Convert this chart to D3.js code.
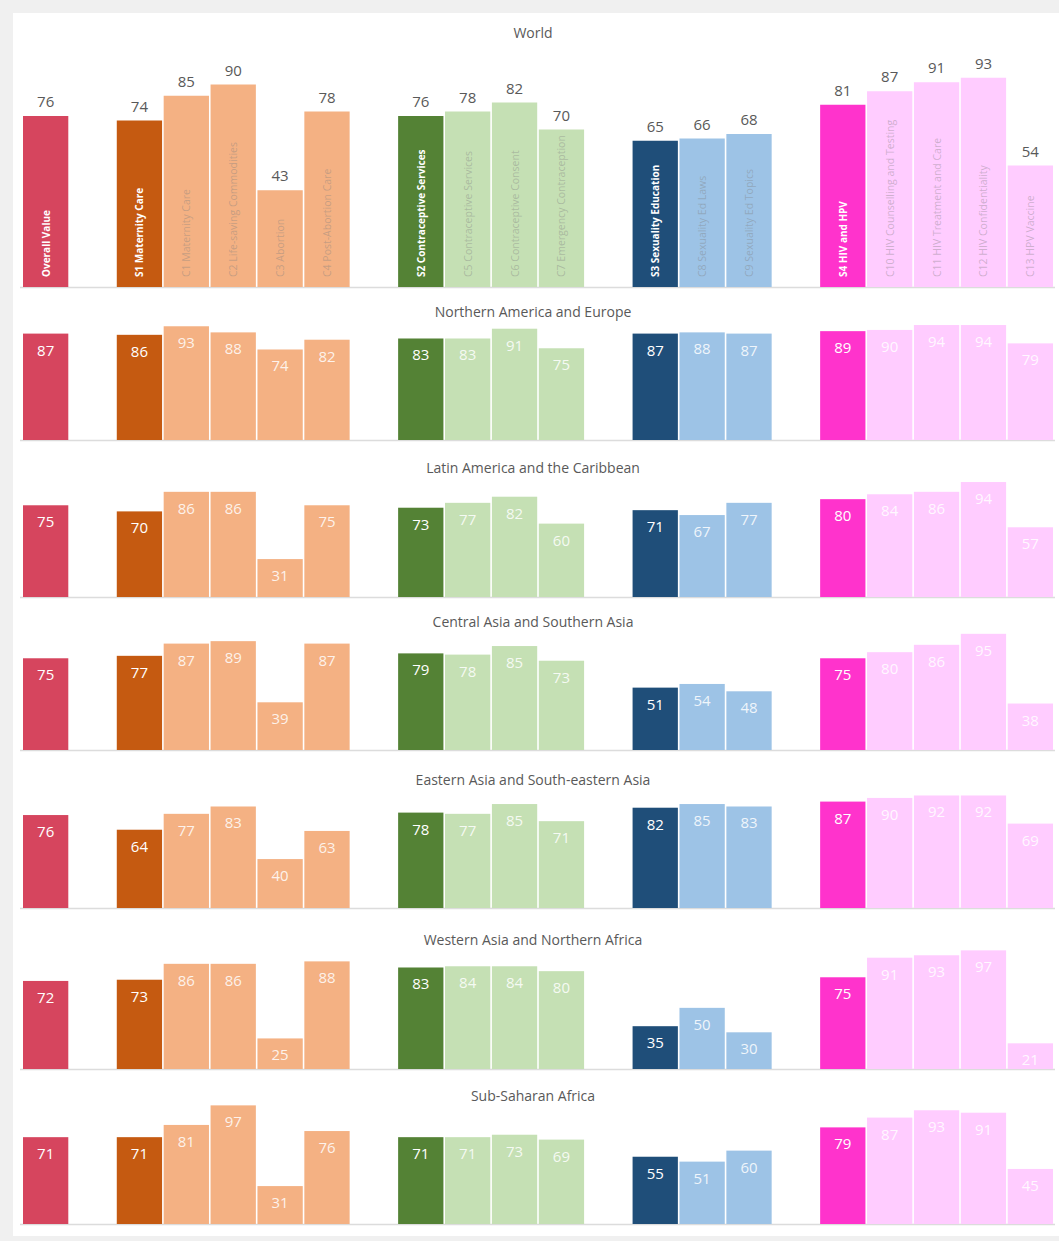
<!DOCTYPE html>
<html>
<head>
<meta charset="utf-8">
<script src="https://cdn.jsdelivr.net/npm/d3@7"></script>
<style>
  html, body { margin: 0; padding: 0; background: #f0f0f0; }
  svg { display: block; }
  text { font-family: "Open Sans", "Noto Sans", sans-serif; }
</style>
</head>
<body>
<svg id="chart" width="1059" height="1241"></svg>
<script>
// Indicator codes in display order; "gap" entries are empty spacer slots.
const slots = ["Overall", "gap1", "S1", "C1", "C2", "C3", "C4", "gap2",
               "S2", "C5", "C6", "C7", "gap3", "S3", "C8", "C9", "gap4",
               "S4", "C10", "C11", "C12", "C13"];

const categories = ["Overall", "S1", "C1", "C2", "C3", "C4", "S2", "C5", "C6", "C7",
                    "S3", "C8", "C9", "S4", "C10", "C11", "C12", "C13"];

const categoryNames = ["Overall Value",
  "S1 Maternity Care", "C1 Maternity Care", "C2 Life-saving Commodities", "C3 Abortion", "C4 Post-Abortion Care",
  "S2 Contraceptive Services", "C5 Contraceptive Services", "C6 Contraceptive Consent", "C7 Emergency Contraception",
  "S3 Sexuality Education", "C8 Sexuality Ed Laws", "C9 Sexuality Ed Topics",
  "S4 HIV and HPV", "C10 HIV Counselling and Testing", "C11 HIV Treatment and Care", "C12 HIV Confidentiality", "C13 HPV Vaccine"];

// Which colour family each indicator belongs to.
const categoryGroups = ["overall", "s1", "c1", "c1", "c1", "c1", "s2", "c2", "c2", "c2",
                        "s3", "c3", "c3", "s4", "c4", "c4", "c4", "c4"];

const regions = ["World", "Northern America and Europe", "Latin America and the Caribbean",
  "Central Asia and Southern Asia", "Eastern Asia and South-eastern Asia",
  "Western Asia and Northern Africa", "Sub-Saharan Africa"];

// Scores (0-100) per region, in the order of `categories`.
const world          = [76, 74, 85, 90, 43, 78, 76, 78, 82, 70, 65, 66, 68, 81, 87, 91, 93, 54];
const northAmEurope  = [87, 86, 93, 88, 74, 82, 83, 83, 91, 75, 87, 88, 87, 89, 90, 94, 94, 79];
const latinAmerica   = [75, 70, 86, 86, 31, 75, 73, 77, 82, 60, 71, 67, 77, 80, 84, 86, 94, 57];
const centralSouthAs = [75, 77, 87, 89, 39, 87, 79, 78, 85, 73, 51, 54, 48, 75, 80, 86, 95, 38];
const eastSEAsia     = [76, 64, 77, 83, 40, 63, 78, 77, 85, 71, 82, 85, 83, 87, 90, 92, 92, 69];
const westAsiaNAfr   = [72, 73, 86, 86, 25, 88, 83, 84, 84, 80, 35, 50, 30, 75, 91, 93, 97, 21];
const subSaharan     = [71, 71, 81, 97, 31, 76, 71, 71, 73, 69, 55, 51, 60, 79, 87, 93, 91, 45];

const regionValues = [world, northAmEurope, latinAmerica, centralSouthAs, eastSEAsia, westAsiaNAfr, subSaharan];

// ---- styling & layout ----
const colors = {
  overall: "#d6455e",
  s1: "#c55a11", c1: "#f4b183",
  s2: "#548235", c2: "#c5e0b4",
  s3: "#1f4e79", c3: "#9dc3e6",
  s4: "#ff33cc", c4: "#ffccff"
};

const W = 1059, H = 1241;
const svg = d3.select("#chart");

// page background and white card
svg.append("rect").attr("width", W).attr("height", H).attr("fill", "#f0f0f0");
svg.append("rect").attr("x", 13).attr("y", 13).attr("width", W - 13).attr("height", 1223).attr("fill", "#ffffff");

const x = d3.scaleBand().domain(slots).range([23, 1053]).paddingInner(0.034).paddingOuter(0);

// Panel geometry: baseline y and pixel height of 100 points.
const panels = [
  { base: 287,  h100: 225,   titleY: 34 },
  { base: 440,  h100: 122.3, titleY: 313 },
  { base: 597,  h100: 122.3, titleY: 469 },
  { base: 750,  h100: 122.3, titleY: 623 },
  { base: 908,  h100: 122.3, titleY: 781 },
  { base: 1069, h100: 122.3, titleY: 941 },
  { base: 1224, h100: 122.3, titleY: 1097 }
];

regions.forEach((region, ri) => {
  const p = panels[ri];
  const y = d3.scaleLinear().domain([0, 100]).range([p.base, p.base - p.h100]);
  const rows = categories.map((c, i) => ({
    key: c, name: categoryNames[i], group: categoryGroups[i], value: regionValues[ri][i]
  }));
  const g = svg.append("g").attr("class", "panel");

  g.append("text")
    .attr("x", 533).attr("y", p.titleY)
    .attr("text-anchor", "middle").attr("dominant-baseline", "middle")
    .attr("font-size", 14).attr("fill", "#595959")
    .text(region);

  // baseline rule
  g.append("line")
    .attr("x1", 20).attr("x2", 1055)
    .attr("y1", y(0) + 0.5).attr("y2", y(0) + 0.5)
    .attr("stroke", "#dcdcdc").attr("stroke-width", 1.5);

  g.selectAll("rect.bar").data(rows).join("rect")
    .attr("class", "bar")
    .attr("x", d => x(d.key))
    .attr("width", x.bandwidth())
    .attr("y", d => y(d.value))
    .attr("height", d => y(0) - y(d.value))
    .attr("fill", d => colors[d.group]);

  if (ri === 0) {
    // values above the bars
    g.selectAll("text.val").data(rows).join("text")
      .attr("class", "val")
      .attr("x", d => x(d.key) + x.bandwidth() / 2)
      .attr("y", d => y(d.value) - 9)
      .attr("text-anchor", "middle")
      .attr("font-size", 15).attr("fill", "#595959")
      .text(d => d.value);

    // indicator names, written upward inside each bar
    g.selectAll("text.name").data(rows).join("text")
      .attr("class", "name")
      .attr("transform", d => `translate(${x(d.key) + x.bandwidth() / 2 + 4},${y(0) - 10}) rotate(-90)`)
      .attr("font-size", d => d.group.startsWith("c") ? 10.5 : 10)
      .attr("font-weight", d => d.group.startsWith("c") ? 400 : 700)
      .attr("fill", d => d.group.startsWith("c") ? "#7f7f7f" : "#ffffff")
      .attr("fill-opacity", d => d.group.startsWith("c") ? 0.4 : 1)
      .text(d => d.name);
  } else {
    // values inside the bar tops
    g.selectAll("text.val").data(rows).join("text")
      .attr("class", "val")
      .attr("x", d => x(d.key) + x.bandwidth() / 2)
      .attr("y", d => y(d.value) + 22)
      .attr("text-anchor", "middle")
      .attr("font-size", 15)
      .attr("fill", "#ffffff")
      .attr("fill-opacity", d => d.group.startsWith("c") ? 0.85 : 1)
      .text(d => d.value);
  }
});
</script>
</body>
</html>
